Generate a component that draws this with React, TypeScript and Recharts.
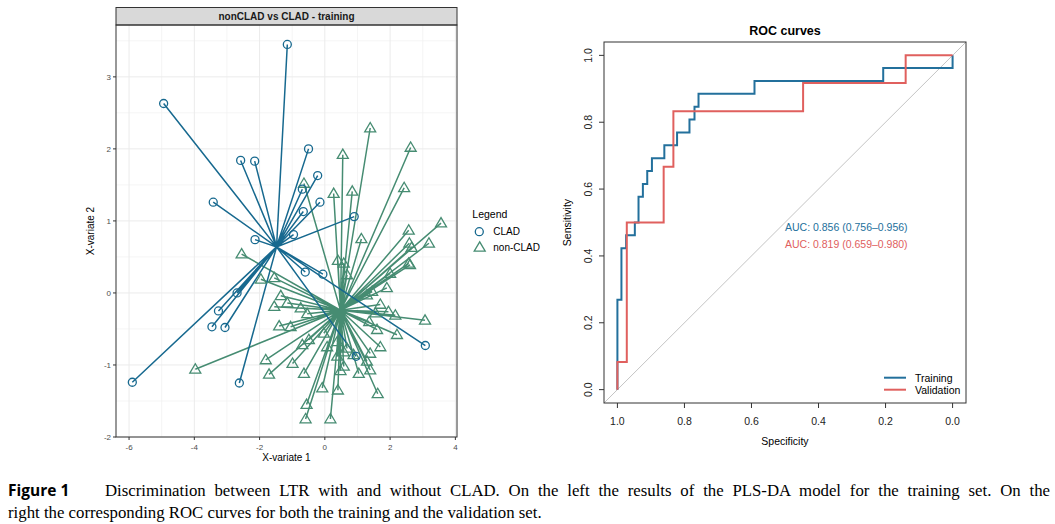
import React from 'react';
import { ScatterChart, Scatter, XAxis, YAxis, CartesianGrid, ReferenceLine } from 'recharts';

// ---------- Left panel: PLS-DA individuals ----------
const cladX = [-1.15, -4.94, -2.58, -2.15, -0.5, -0.22, -3.42, -0.69, -0.15, -0.66, 0.9, -2.14, -0.96, -0.6, -0.06, -2.69, -3.26, -3.46, -3.06, -5.9, -2.62, 3.08, 0.96];
const cladY = [3.45, 2.63, 1.84, 1.83, 2.0, 1.63, 1.26, 1.44, 1.26, 1.13, 1.06, 0.74, 0.81, 0.29, 0.26, 0.0, -0.25, -0.47, -0.48, -1.24, -1.25, -0.73, -0.88];

const nonCladX = [1.39, 2.63, 0.55, -0.64, 2.43, 0.27, 0.84, 3.56, 2.57, 1.12, 2.59, 3.19, 2.66, -2.55, 0.4, 2.57,
  2.61, -1.96, -1.55, 1.9, -1.35, 1.45, -1.55, -1.15, 1.7, 1.95, 3.07, 1.36, -1.4, -1.05, 2.21, -0.49, 1.7, 1.39, -1.81, -0.99, -3.97, -1.71, -0.64, 0.48, 1.04, 1.39, -0.08, 0.4, 1.62, -0.56, -0.59, 0.17,
  -0.54, -0.03, -0.69, 0.58, 1.29, 1.6, 0.58, 1.55, 2.16, 2.0, 0.58, 0.38, 0.68, 0.38, 0.07, 0.88, 1.29, -0.74, 0.68];
const nonCladY = [2.29, 2.02, 1.92, 1.52, 1.46, 1.38, 1.41, 0.97, 0.87, 0.75, 0.69, 0.69, 0.63, 0.54, 0.45, 0.41,
  0.39, 0.19, 0.21, 0.07, -0.04, 0.02, -0.19, -0.14, -0.16, -0.26, -0.38, -0.4, -0.46, -0.47, -0.58, -0.65, -0.75, -0.84, -0.93, -0.98, -1.06, -1.13, -1.12, -1.08, -1.12, -1.07, -1.32, -1.35, -1.4, -1.55, -1.75, -1.75,
  -0.29, -0.56, -0.72, 0.41, -0.03, -0.51, -0.82, -0.28, -0.31, 0.27, -1.02, -0.68, -0.77, -0.88, -0.75, -0.86, -0.95, -0.21, 0.25];

const cladCentroid = { x: -1.48, y: 0.64 };
const nonCladCentroid = { x: 0.48, y: -0.24 };

const pcaXTicks = [-6, -4, -2, 0, 2, 4];
const pcaYTicks = [-2, -1, 0, 1, 2, 3];
const pcaXMinor = [-5, -3, -1, 1, 3];
const pcaYMinor = [-1.5, -0.5, 0.5, 1.5, 2.5, 3.5];

// ---------- Right panel: ROC ----------
const trainSpec = [1.0, 1.0, 0.988, 0.988, 0.974, 0.974, 0.948, 0.948, 0.937, 0.937, 0.924, 0.924, 0.911, 0.911, 0.897, 0.897, 0.86, 0.86, 0.822, 0.822, 0.785, 0.785, 0.77, 0.77, 0.758, 0.758, 0.591, 0.591, 0.207, 0.207, 0.0, 0.0];
const trainSens = [0.0, 0.269, 0.269, 0.423, 0.423, 0.462, 0.462, 0.5, 0.5, 0.577, 0.577, 0.615, 0.615, 0.654, 0.654, 0.692, 0.692, 0.731, 0.731, 0.769, 0.769, 0.808, 0.808, 0.846, 0.846, 0.885, 0.885, 0.923, 0.923, 0.962, 0.962, 1.0];
const validSpec = [1.0, 1.0, 0.972, 0.972, 0.862, 0.862, 0.833, 0.833, 0.446, 0.446, 0.14, 0.14, 0.0];
const validSens = [0.0, 0.083, 0.083, 0.5, 0.5, 0.667, 0.667, 0.833, 0.833, 0.917, 0.917, 1.0, 1.0];
const rocTicks = [0, 0.2, 0.4, 0.6, 0.8, 1.0];
const aucTexts = ['AUC: 0.856 (0.756\u20130.956)', 'AUC: 0.819 (0.659\u20130.980)'];
const rocSeries = ['Training', 'Validation'];

const BLUE = '#17698f';
const GREEN = '#468c72';
const ROC_BLUE = '#23709c';
const ROC_RED = '#e0605e';
const SANS = '"Liberation Sans", Arial, sans-serif';

const zip = (xs: number[], ys: number[]) => xs.map((x, i) => ({ x, y: ys[i] }));
const cladPts = zip(cladX, cladY);
const nonCladPts = zip(nonCladX, nonCladY);
const star = (c: { x: number; y: number }, pts: { x: number; y: number }[]) => pts.flatMap((p) => [c, p]);
const trainData = trainSpec.map((s, i) => ({ spec: s, sens: trainSens[i] }));
const validData = validSpec.map((s, i) => ({ spec: s, sens: validSens[i] }));

const Empty = () => <g />;
const CircleShape = (props: any) => (
  <circle cx={props.cx} cy={props.cy} r={4} fill="none" stroke={BLUE} strokeWidth={1.3} />
);
const TriShape = (props: any) => {
  const { cx, cy } = props;
  return (
    <polygon
      points={`${cx},${cy - 5.5} ${cx - 5.5},${cy + 3.8} ${cx + 5.5},${cy + 3.8}`}
      fill="none"
      stroke={GREEN}
      strokeWidth={1.3}
    />
  );
};

const RocYTick = (props: any) => {
  const { x, y, payload } = props;
  return (
    <text x={x} y={y} transform={`rotate(-90 ${x} ${y})`} textAnchor="middle" fontSize={10.5} fill="#222" fontFamily={SANS}>
      {Number(payload.value).toFixed(1)}
    </text>
  );
};

export default function App() {
  return (
    <div style={{ position: 'absolute', left: 0, top: 0, width: 1055, height: 524, background: '#fff', overflow: 'hidden' }}>
      {/* Left chart */}
      <div style={{ position: 'absolute', left: 0, top: 0 }}>
        <ScatterChart width={470} height={470} margin={{ top: 25, right: 13, bottom: 13, left: 80 }}>
          <CartesianGrid stroke="#f2f2f2" strokeWidth={0.8} verticalValues={pcaXMinor} horizontalValues={pcaYMinor} />
          <CartesianGrid stroke="#ebebeb" strokeWidth={1} verticalValues={pcaXTicks} horizontalValues={pcaYTicks} />
          <XAxis
            type="number"
            dataKey="x"
            domain={[-6.4, 4.05]}
            allowDataOverflow
            ticks={pcaXTicks}
            height={20}
            tickSize={3}
            tickMargin={4}
            axisLine={false}
            tickLine={{ stroke: '#333' }}
            tick={{ fontSize: 8, fill: '#4d4d4d', fontFamily: SANS }}
          />
          <YAxis
            type="number"
            dataKey="y"
            domain={[-2.0, 3.72]}
            allowDataOverflow
            ticks={pcaYTicks}
            width={36}
            tickSize={3}
            tickMargin={2}
            axisLine={false}
            tickLine={{ stroke: '#333' }}
            tick={{ fontSize: 8, fill: '#4d4d4d', fontFamily: SANS }}
          />
          <Scatter data={star(nonCladCentroid, nonCladPts)} line={{ stroke: GREEN, strokeWidth: 1.5 }} lineType="joint" shape={<Empty />} isAnimationActive={false} />
          <Scatter data={star(cladCentroid, cladPts)} line={{ stroke: BLUE, strokeWidth: 1.5 }} lineType="joint" shape={<Empty />} isAnimationActive={false} />
          <Scatter data={nonCladPts} shape={<TriShape />} isAnimationActive={false} />
          <Scatter data={cladPts} shape={<CircleShape />} isAnimationActive={false} />
        </ScatterChart>
      </div>

      {/* Right chart */}
      <div style={{ position: 'absolute', left: 540, top: 0 }}>
        <ScatterChart width={440} height={470} margin={{ top: 42, right: 14, bottom: 35, left: 20 }}>
          <XAxis
            type="number"
            dataKey="spec"
            domain={[-0.04, 1.04]}
            reversed
            allowDataOverflow
            ticks={rocTicks}
            tickFormatter={(v: number) => v.toFixed(1)}
            height={32}
            tickSize={5}
            tickMargin={10}
            axisLine={false}
            tickLine={{ stroke: '#333' }}
            tick={{ fontSize: 10.5, fill: '#222', fontFamily: SANS }}
          />
          <YAxis
            type="number"
            dataKey="sens"
            domain={[-0.04, 1.04]}
            allowDataOverflow
            ticks={rocTicks}
            width={44}
            tickSize={5}
            tickMargin={7}
            axisLine={false}
            tickLine={{ stroke: '#333' }}
            tick={<RocYTick />}
          />
          <ReferenceLine
            segment={[{ x: 1.04, y: -0.04 }, { x: -0.04, y: 1.04 }]}
            stroke="#c4c4c4"
            strokeWidth={1}
          />
          <Scatter data={trainData} line={{ stroke: ROC_BLUE, strokeWidth: 2 }} lineType="joint" shape={<Empty />} isAnimationActive={false} />
          <Scatter data={validData} line={{ stroke: ROC_RED, strokeWidth: 2 }} lineType="joint" shape={<Empty />} isAnimationActive={false} />
        </ScatterChart>
      </div>

      {/* Overlay text / frames */}
      <svg width={1055} height={524} style={{ position: 'absolute', left: 0, top: 0, pointerEvents: 'none' }} fontFamily={SANS}>
        {/* left panel strip and border */}
        <rect x={116} y={7.5} width={341} height={17.5} fill="#d9d9d9" stroke="#333" strokeWidth={1} />
        <rect x={116} y={25} width={341} height={412} fill="none" stroke="#333" strokeWidth={1} />
        <text x={286.5} y={19.5} textAnchor="middle" fontSize={10} fontWeight="bold" fill="#1a1a1a">nonCLAD vs CLAD - training</text>
        <text x={286.5} y={461} textAnchor="middle" fontSize={10} fill="#000">X-variate 1</text>
        <text x={94} y={231} transform="rotate(-90 94 231)" textAnchor="middle" fontSize={10} fill="#000">X-variate 2</text>

        {/* left legend */}
        <text x={472.3} y={218} fontSize={10.5} fill="#000">Legend</text>
        <circle cx={479.3} cy={231.7} r={4} fill="none" stroke={BLUE} strokeWidth={1.3} />
        <text x={493.3} y={235.3} fontSize={10} fill="#000">CLAD</text>
        <polygon points={`479.7,241.8 474.2,251.1 485.2,251.1`} fill="none" stroke={GREEN} strokeWidth={1.3} />
        <text x={493.3} y={251} fontSize={10} fill="#000">non-CLAD</text>

        {/* ROC frame and texts */}
        <rect x={604} y={42} width={362} height={361} fill="none" stroke="#333" strokeWidth={1} />
        <text x={785} y={34.5} textAnchor="middle" fontSize={12.5} fontWeight="bold" fill="#000">ROC curves</text>
        <text x={785} y={444.7} textAnchor="middle" fontSize={10.5} fill="#000">Specificity</text>
        <text x={570.5} y={222.5} transform="rotate(-90 570.5 222.5)" textAnchor="middle" fontSize={10.5} fill="#000">Sensitivity</text>
        <text x={785} y={230.7} fontSize={10.5} fill={ROC_BLUE}>{aucTexts[0]}</text>
        <text x={785} y={247.7} fontSize={10.5} fill={ROC_RED}>{aucTexts[1]}</text>
        <line x1={884} x2={906} y1={377.7} y2={377.7} stroke={ROC_BLUE} strokeWidth={2} />
        <line x1={884} x2={906} y1={389.7} y2={389.7} stroke={ROC_RED} strokeWidth={2} />
        <text x={915} y={381.5} fontSize={10.5} fill="#000">{rocSeries[0]}</text>
        <text x={915} y={393.5} fontSize={10.5} fill="#000">{rocSeries[1]}</text>
      </svg>

      {/* Caption */}
      <div style={{ position: 'absolute', left: 8, top: 479, width: 1042, fontFamily: '"Liberation Serif", "Times New Roman", serif', fontSize: 16.8, lineHeight: '22px', color: '#000' }}>
        <div style={{ display: 'flex', alignItems: 'baseline' }}>
          <span style={{ fontFamily: '"Open Sans", sans-serif', fontWeight: 700, fontSize: 15.5, width: 97, flex: 'none' }}>Figure 1</span>
          <span style={{ flex: 1, textAlign: 'justify', textAlignLast: 'justify' }}>
            Discrimination between LTR with and without CLAD. On the left the results of the PLS-DA model for the training set. On the
          </span>
        </div>
        <div>right the corresponding ROC curves for both the training and the validation set.</div>
      </div>
    </div>
  );
}
